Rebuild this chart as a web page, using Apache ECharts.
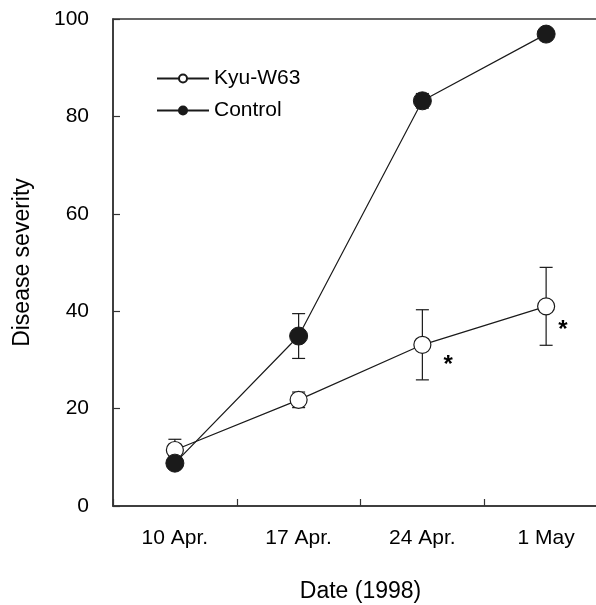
<!DOCTYPE html>
<html>
<head>
<meta charset="utf-8">
<script src="https://cdn.jsdelivr.net/npm/echarts@6/dist/echarts.min.js"></script>
<style>
  html, body { margin: 0; padding: 0; background: #fff; }
  #chart { width: 596px; height: 605px; }
</style>
</head>
<body>
<div id="chart"></div>
<script>
const dates = ["10 Apr.", "17 Apr.", "24 Apr.", "1 May"];
const kyuValues = [11.5, 21.8, 33.1, 41.0];
const kyuErr = [2.2, 1.6, 7.2, 8.0];
const kyuSignif = ["", "", "*", "*"];
const controlValues = [8.8, 34.9, 83.2, 96.9];
const controlErr = [0.5, 4.6, 1.5, 0.5];
const yTicks = [0, 20, 40, 60, 80, 100];

const font = "'Liberation Sans', Arial, sans-serif";
const chart = echarts.init(document.getElementById("chart"));

// offsets of the "*" next to a point, px
const starOffsets = [[0, 0], [0, 0], [7, 21], [-2, 24]];

function errorBars(values, errs, z) {
  return {
    type: "custom",
    z: z,
    silent: true,
    data: values.map((v, i) => [i, v - errs[i], v + errs[i]]),
    renderItem(params, api) {
      const lo = api.coord([api.value(0), api.value(1)]);
      const hi = api.coord([api.value(0), api.value(2)]);
      const cap = 6.5;
      const style = { stroke: "#1a1a1a", lineWidth: 1.2 };
      return {
        type: "group",
        children: [
          { type: "line", shape: { x1: lo[0], y1: lo[1], x2: hi[0], y2: hi[1] }, style },
          { type: "line", shape: { x1: lo[0] - cap, y1: lo[1], x2: lo[0] + cap, y2: lo[1] }, style },
          { type: "line", shape: { x1: hi[0] - cap, y1: hi[1], x2: hi[0] + cap, y2: hi[1] }, style },
        ],
      };
    },
  };
}

// ticks point into the plot, as in the original figure
const tickStyle = { show: true, inside: false, length: -7, lineStyle: { color: "#333", width: 1.2 } };

const option = {
  animation: false,
  backgroundColor: "#fff",
  textStyle: { fontFamily: font, color: "#000" },
  grid: {
    left: 113, top: 19, width: 495, height: 487,
    outerBoundsMode: "none",
    containLabel: false,
    show: true, borderColor: "#333", borderWidth: 1.5,
  },
  legend: {
    left: 151, top: 63,
    orient: "vertical",
    itemWidth: 52, itemHeight: 10, itemGap: 11,
    textStyle: { fontSize: 21, fontFamily: font, color: "#000" },
    data: ["Kyu-W63", "Control"],
  },
  xAxis: {
    type: "category",
    data: dates,
    boundaryGap: true,
    name: "Date (1998)",
    nameLocation: "middle",
    nameGap: 74,
    nameTextStyle: { fontSize: 23, color: "#000", fontFamily: font },
    axisLine: { lineStyle: { color: "#333", width: 1.5 } },
    axisTick: tickStyle,
    axisLabel: { fontSize: 21, color: "#000", margin: 22, fontFamily: font },
    splitLine: { show: false },
  },
  yAxis: {
    type: "value",
    min: yTicks[0], max: yTicks[yTicks.length - 1], interval: 20,
    name: "Disease severity",
    nameLocation: "middle",
    nameGap: 79,
    nameTextStyle: { fontSize: 23, color: "#000", fontFamily: font },
    axisLine: { show: true, lineStyle: { color: "#333", width: 1.5 } },
    axisTick: tickStyle,
    axisLabel: { fontSize: 21, color: "#000", margin: 24, fontFamily: font },
    splitLine: { show: false },
  },
  series: [
    errorBars(kyuValues, kyuErr, 1),
    errorBars(controlValues, controlErr, 1),
    {
      name: "Kyu-W63",
      type: "line",
      z: 2,
      symbol: "circle",
      symbolSize: 17,
      data: kyuValues.map((v, i) => ({
        value: v,
        label: {
          show: kyuSignif[i] !== "",
          formatter: kyuSignif[i],
          position: "right",
          offset: starOffsets[i],
          fontSize: 24,
          fontWeight: "bold",
          color: "#000",
          fontFamily: font,
        },
      })),
      itemStyle: { color: "#fff", borderColor: "#1a1a1a", borderWidth: 1.2 },
      lineStyle: { color: "#1a1a1a", width: 1.2 },
    },
    {
      name: "Control",
      type: "line",
      z: 3,
      symbol: "circle",
      symbolSize: 18,
      data: controlValues,
      itemStyle: { color: "#1a1a1a", borderColor: "#1a1a1a", borderWidth: 1 },
      lineStyle: { color: "#1a1a1a", width: 1.2 },
    },
  ],
};

chart.setOption(option);
</script>
</body>
</html>
